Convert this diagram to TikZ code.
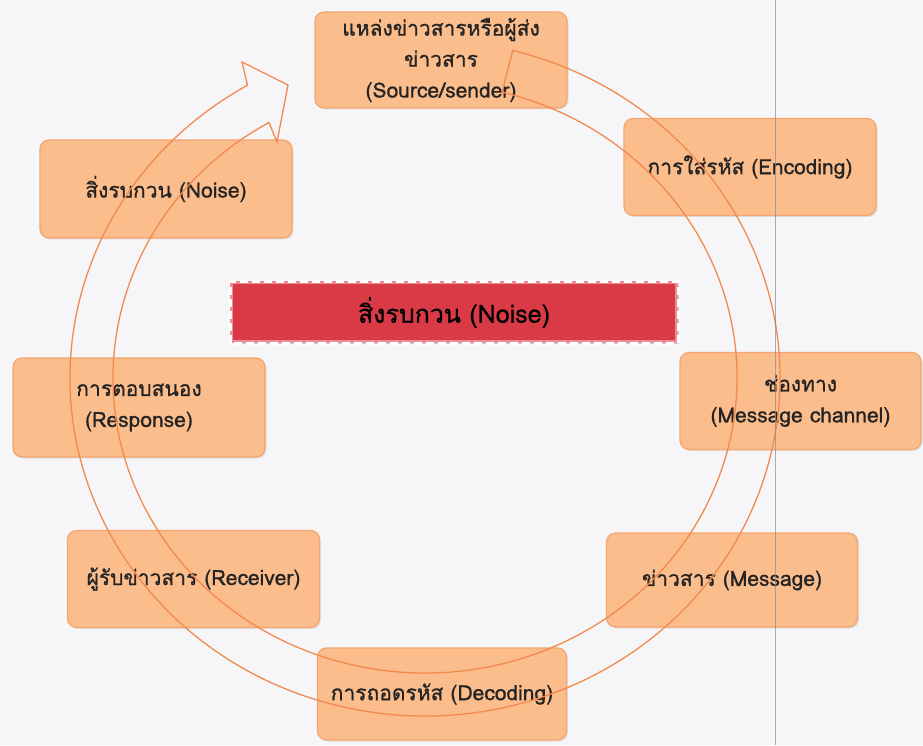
\documentclass[tikz,border=0pt]{standalone}
\usepackage{fontspec}
\newfontfamily\thaifont[Script=Thai,FakeBold=0.8]{Loma}
\usetikzlibrary{calc,shadows}
\definecolor{bg}{RGB}{246,246,249}
\definecolor{boxfill}{RGB}{251,189,140}
\definecolor{boxedge}{RGB}{244,166,110}
\definecolor{arrowc}{RGB}{242,138,78}
\definecolor{noisered}{RGB}{218,58,70}
\definecolor{noiseedge}{RGB}{236,140,150}
\definecolor{txt}{RGB}{35,35,35}
\begin{document}
\begin{tikzpicture}[x=1pt,y=1pt,
  box/.style={rounded corners=9pt, fill=boxfill, draw=boxedge, line width=1.2pt,
    align=center, inner sep=0pt, text=txt,
    font=\thaifont\fontsize{21}{31}\selectfont,
    general shadow={fill=black!12, shadow xshift=1.5pt, shadow yshift=-1.5pt}},
  redbox/.style={fill=noisered, draw=noiseedge, line width=3pt, inner sep=0pt,
    text=black, font=\thaifont\fontsize{25}{28}\selectfont,
    general shadow={fill=black!18, shadow xshift=2pt, shadow yshift=-2pt}},
  whitedash/.style={draw=white, line width=3pt, dash pattern=on 8pt off 4pt},
  arrowline/.style={draw=arrowc, line width=1.3pt, line join=miter},
  pageline/.style={draw=black!45, line width=0.8pt, opacity=0.7}]
\fill[bg] (0,0) rectangle (923,745);
\useasboundingbox (0,0) rectangle (923,745);

\node[box, minimum width=252, minimum height=96] (src) at (441,685)
  {แหล่งข่าวสารหรือผู้ส่ง\\ข่าวสาร\\(Source/sender)};
\node[box, minimum width=252, minimum height=97] (enc) at (750,578)
  {การใส่รหัส (Encoding)};
\node[box, minimum width=241, minimum height=97] (chan) at (800.5,344)
  {ช่องทาง\\(Message channel)};
\node[box, minimum width=251, minimum height=94] (msg) at (732,165)
  {ข่าวสาร (Message)};
\node[box, minimum width=249, minimum height=92] (dec) at (442,51)
  {การถอดรหัส (Decoding)};
\node[box, minimum width=252, minimum height=97] (rec) at (193.5,166)
  {ผู้รับข่าวสาร (Receiver)};
\node[box, minimum width=252, minimum height=99] (resp) at (139,337.5)
  {การตอบสนอง\\(Response)};
\node[box, minimum width=252, minimum height=98] (noiseL) at (166,556)
  {สิ่งรบกวน (Noise)};

\node[redbox, minimum width=445, minimum height=59] (noiseC) at (454,432.5)
  {สิ่งรบกวน (Noise)};
\draw[whitedash] (noiseC.south west) rectangle (noiseC.north east);

% circular arrow outline
\coordinate (c) at (425,367);
\coordinate (hb1) at (242,683);
\coordinate (ht) at (288,660);
\coordinate (hb2) at (277,603);
\draw[arrowline] ($(c)+(75.7:355 and 338)$)
  arc[start angle=75.7, end angle=-240, x radius=355, y radius=338]
  -- (hb1) -- (ht) -- (hb2) -- ($(c)+(120:312 and 295)$)
  arc[start angle=-240, end angle=75.7, x radius=312, y radius=295] -- cycle;

% page edge line
\coordinate (vt) at (775,745);
\coordinate (vb) at (775,0);
\draw[pageline] (vt) -- (vb);
\end{tikzpicture}
\end{document}
